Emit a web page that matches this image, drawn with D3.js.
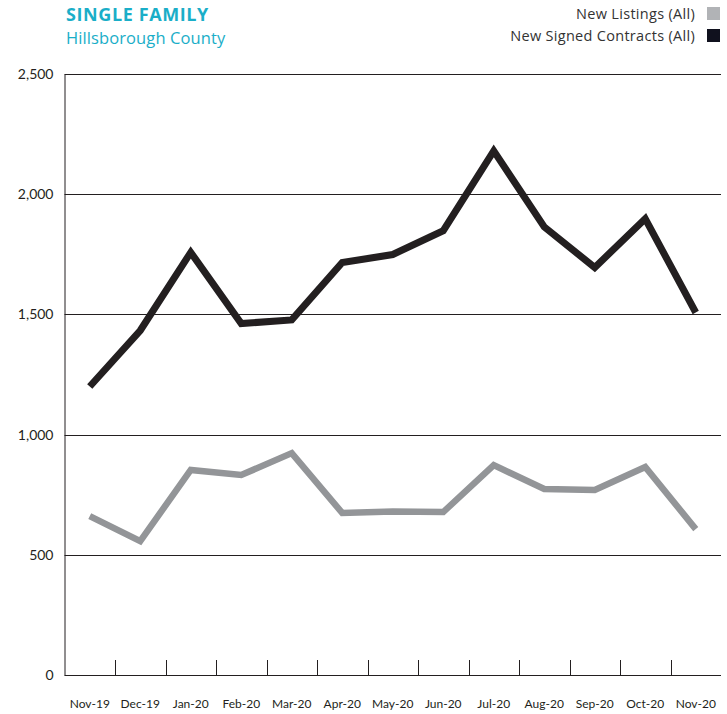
<!DOCTYPE html>
<html>
<head>
<meta charset="utf-8">
<script src="https://cdn.jsdelivr.net/npm/d3@7"></script>
<style>
  body { margin: 0; background: #fff; }
  text { font-family: Lato, "Open Sans", sans-serif; }
</style>
</head>
<body>
<div id="vis"></div>
<script>
const FRAME_WIDTH = 727;
const FRAME_HEIGHT = 714;
const MARGINS = {left: 64.5, right: 6, top: 74, bottom: 39};

// data
const months = ["Nov-19", "Dec-19", "Jan-20", "Feb-20", "Mar-20", "Apr-20", "May-20",
                "Jun-20", "Jul-20", "Aug-20", "Sep-20", "Oct-20", "Nov-20"];
const newListings = [661, 557, 853, 832, 923, 674, 680, 678, 873, 774, 770, 865, 607];
const newContracts = [1200, 1433, 1758, 1462, 1477, 1716, 1749, 1848, 2180, 1864, 1695, 1898, 1508];
const yTicks = [0, 500, 1000, 1500, 2000, 2500];
const seriesNames = ["New Listings (All)", "New Signed Contracts (All)"];

const VIS_WIDTH = FRAME_WIDTH - MARGINS.left - MARGINS.right;
const VIS_HEIGHT = FRAME_HEIGHT - MARGINS.top - MARGINS.bottom;

const FRAME = d3.select("#vis")
  .append("svg")
    .attr("width", FRAME_WIDTH)
    .attr("height", FRAME_HEIGHT);

const X_SCALE = d3.scaleBand()
  .domain(months)
  .range([MARGINS.left, MARGINS.left + VIS_WIDTH]);

const Y_SCALE = d3.scaleLinear()
  .domain([0, 2500])
  .range([MARGINS.top + VIS_HEIGHT, MARGINS.top]);

// gridlines
FRAME.append("g")
  .selectAll("line")
  .data(yTicks)
  .enter()
  .append("line")
    .attr("x1", MARGINS.left)
    .attr("x2", MARGINS.left + VIS_WIDTH)
    .attr("y1", d => Math.round(Y_SCALE(d)) + 0.5)
    .attr("y2", d => Math.round(Y_SCALE(d)) + 0.5)
    .attr("stroke", "#231f20")
    .attr("stroke-width", 1);

// y axis
const yAxis = FRAME.append("g")
  .attr("transform", "translate(" + MARGINS.left + ",0)")
  .call(d3.axisLeft(Y_SCALE).tickValues(yTicks).tickSize(0).tickPadding(11)
        .tickFormat(d3.format(",")));
yAxis.select(".domain").attr("stroke", "#231f20");
yAxis.selectAll("text")
  .attr("font-size", 14)
  .attr("fill", "#231f20")
  .style("font-family", "Lato, sans-serif");

// x axis: ticks at band boundaries
const boundaries = months.slice(1).map(m => X_SCALE(m));
FRAME.append("g")
  .selectAll("line")
  .data(boundaries)
  .enter()
  .append("line")
    .attr("x1", d => Math.round(d) + 0.5)
    .attr("x2", d => Math.round(d) + 0.5)
    .attr("y1", Y_SCALE(0) - 15)
    .attr("y2", Y_SCALE(0))
    .attr("stroke", "#231f20")
    .attr("stroke-width", 1);

FRAME.append("g")
  .selectAll("text")
  .data(months)
  .enter()
  .append("text")
    .attr("x", d => X_SCALE(d) + X_SCALE.bandwidth() / 2)
    .attr("y", 708)
    .attr("text-anchor", "middle")
    .attr("font-size", 12)
    .attr("fill", "#231f20")
    .text(d => d);

// lines
const line = d3.line()
  .x((d, i) => X_SCALE(months[i]) + X_SCALE.bandwidth() / 2)
  .y(d => Y_SCALE(d));

FRAME.append("path")
  .datum(newListings)
  .attr("d", line)
  .attr("fill", "none")
  .attr("stroke", "#939598")
  .attr("stroke-width", 6.5);

FRAME.append("path")
  .datum(newContracts)
  .attr("d", line)
  .attr("fill", "none")
  .attr("stroke", "#231f20")
  .attr("stroke-width", 7);

// title
FRAME.append("text")
  .attr("x", 66)
  .attr("y", 21)
  .attr("font-size", 18)
  .attr("font-weight", "bold")
  .attr("fill", "#1aaec8")
  .style("font-family", "'Open Sans', sans-serif")
  .attr("letter-spacing", 0.6)
  .text("SINGLE FAMILY");
FRAME.append("text")
  .attr("x", 66)
  .attr("y", 44)
  .attr("font-size", 16.5)
  .attr("fill", "#1aaec8")
  .style("font-family", "'Open Sans', sans-serif")
  .attr("letter-spacing", 0.1)
  .text("Hillsborough County");

// legend
const legendColors = ["#b1b3b6", "#10111e"];
const legend = FRAME.append("g")
  .selectAll("g")
  .data(seriesNames)
  .enter()
  .append("g")
    .attr("transform", (d, i) => "translate(0," + (i * 22) + ")");
legend.append("text")
  .attr("x", 695)
  .attr("y", 19)
  .attr("text-anchor", "end")
  .attr("font-size", 14.5)
  .attr("fill", "#333")
  .style("font-family", "'Open Sans', sans-serif")
  .attr("letter-spacing", 0.3)
  .text(d => d);
legend.append("rect")
  .attr("x", 707)
  .attr("y", 7)
  .attr("width", 13)
  .attr("height", 13)
  .attr("fill", (d, i) => legendColors[i]);
</script>
</body>
</html>
